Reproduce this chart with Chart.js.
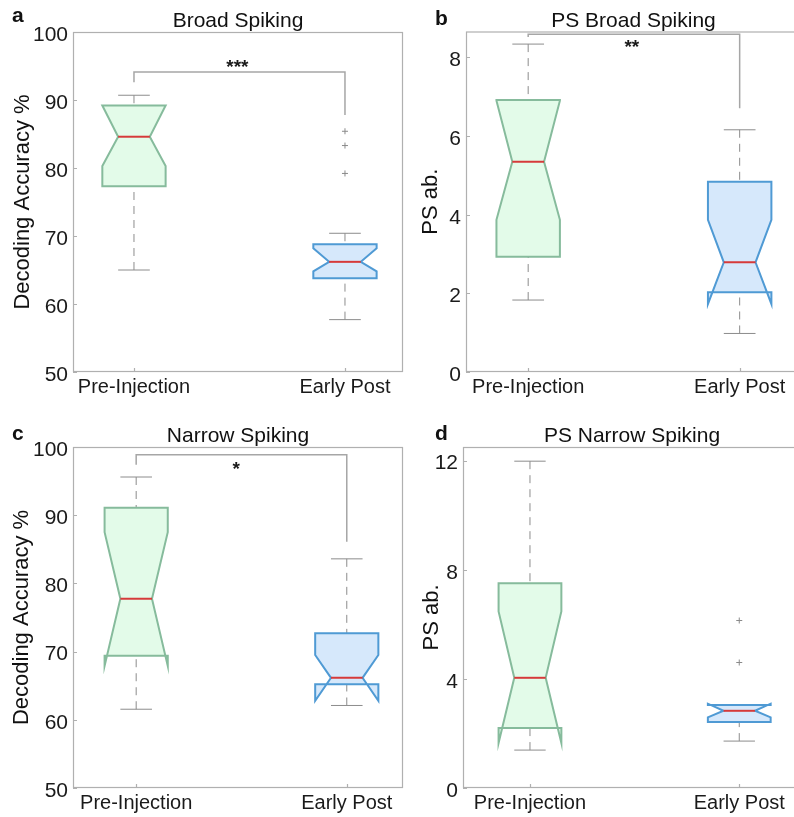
<!DOCTYPE html>
<html>
<head>
<meta charset="utf-8">
<script src="https://cdn.jsdelivr.net/npm/chart.js@4.4.0/dist/chart.umd.min.js"></script>
<style>
html, body { margin:0; padding:0; background:#fff; width:794px; height:817px; overflow:hidden; position:relative; }
canvas { position:absolute; }
</style>
</head>
<body>
<canvas id="chartA" width="410" height="405" style="left:0;top:0"></canvas>
<canvas id="chartB" width="410" height="405" style="left:400px;top:0"></canvas>
<canvas id="chartC" width="410" height="412" style="left:0;top:405px"></canvas>
<canvas id="chartD" width="410" height="412" style="left:400px;top:405px"></canvas>
<script>
const groups = ['Pre-Injection', 'Early Post'];

// a - Broad Spiking, decoding accuracy %
const broadWhiskLo = [65.0, 57.7];
const broadQ1 = [77.3, 63.8];
const broadNotchLo = [80.3, 64.8];
const broadMedian = [84.6, 66.2];
const broadNotchHi = [89.2, 68.2];
const broadQ3 = [89.2, 68.8];
const broadWhiskHi = [90.7, 70.4];
const broadOutliers = [[], [85.4, 83.3, 79.2]];
const broadSig = [94.1, 92.6, 87.8]; // bracket level, left end, right end
const broadStar = ['***', 1.49, 95.6];

// b - PS Broad Spiking
const psBroadWhiskLo = [1.83, 0.98];
const psBroadQ1 = [2.93, 2.03];
const psBroadNotchLo = [3.87, 1.73];
const psBroadMedian = [5.35, 2.79];
const psBroadNotchHi = [6.9, 3.87];
const psBroadQ3 = [6.92, 4.84];
const psBroadWhiskHi = [8.34, 6.16];
const psBroadOutliers = [[], []];
const psBroadSig = [8.59, 8.52, 6.71];
const psBroadStar = ['**', 1.49, 8.38];

// c - Narrow Spiking, decoding accuracy %
const narrowWhiskLo = [61.55, 62.1];
const narrowQ1 = [69.4, 65.2];
const narrowNotchLo = [67.9, 62.8];
const narrowMedian = [77.75, 66.15];
const narrowNotchHi = [87.5, 69.5];
const narrowQ3 = [91.1, 72.7];
const narrowWhiskHi = [95.6, 83.6];
const narrowOutliers = [[], []];
const narrowSig = [98.85, 97.4, 86.1];
const narrowStar = ['*', 1.475, 97.5];

// d - PS Narrow Spiking
const psNarrowWhiskLo = [1.39, 1.72];
const psNarrowQ1 = [2.2, 2.42];
const psNarrowNotchLo = [1.65, 2.59];
const psNarrowMedian = [4.04, 2.83];
const psNarrowNotchHi = [6.47, 3.09];
const psNarrowQ3 = [7.51, 3.04];
const psNarrowWhiskHi = [11.98, 3.06];
const psNarrowOutliers = [[], [6.14, 4.6]];

const BOX_HALF = 0.15;   // box half width in x units
const CAP_HALF = 0.075;  // whisker cap half width
const fillCols = ['#e3fbe9', '#d6e8fb'];
const lineCols = ['#86bb9c', '#4f9ad4'];
const FONT = '"Liberation Sans", Arial, sans-serif';

function makeBoxPlugin(p) {
  return {
    id: 'boxPlot',
    beforeDatasetsDraw(chart) {
      const { ctx, chartArea: ca } = chart;
      const xs = chart.scales.x, ys = chart.scales.y;
      const px = v => xs.getPixelForValue(v);
      const py = v => ys.getPixelForValue(v);
      ctx.save();
      // frame
      ctx.strokeStyle = '#b0b0b0';
      ctx.lineWidth = 1.2;
      ctx.strokeRect(ca.left + 0.5, ca.top + 0.5, ca.width - 1, ca.height - 1);
      // inner tick marks
      ctx.beginPath();
      ys.ticks.forEach(t => {
        const yy = Math.round(py(t.value)) + 0.5;
        ctx.moveTo(ca.left, yy); ctx.lineTo(ca.left + 4, yy);
      });
      xs.ticks.forEach(t => {
        const xx = Math.round(px(t.value)) + 0.5;
        ctx.moveTo(xx, ca.bottom); ctx.lineTo(xx, ca.bottom - 4);
      });
      ctx.stroke();

      // significance bracket
      if (p.sig) {
        ctx.strokeStyle = '#a6a6a6';
        ctx.lineWidth = 1.5;
        ctx.beginPath();
        ctx.moveTo(px(1), py(p.sig[1]));
        ctx.lineTo(px(1), py(p.sig[0]));
        ctx.lineTo(px(2), py(p.sig[0]));
        ctx.lineTo(px(2), py(p.sig[2]));
        ctx.stroke();
        ctx.fillStyle = '#1a1a1a';
        ctx.font = 'bold 19px ' + FONT;
        ctx.textAlign = 'center';
        ctx.textBaseline = 'alphabetic';
        ctx.fillText(p.star[0], px(p.star[1]), py(p.star[2]) + 0.57 * 19);
      }

      for (let i = 0; i < groups.length; i++) {
        const c = i + 1;
        const xc = px(c);
        const xl = px(c - BOX_HALF), xr = px(c + BOX_HALF);
        const nl = px(c - BOX_HALF / 2), nr = px(c + BOX_HALF / 2);
        const cl = px(c - CAP_HALF), cr = px(c + CAP_HALF);

        // dashed whiskers
        ctx.strokeStyle = '#8c8c8c';
        ctx.lineWidth = 1;
        ctx.setLineDash([8, 6]);
        ctx.beginPath();
        ctx.moveTo(xc, py(p.whiskHi[i])); ctx.lineTo(xc, py(p.q3[i]));
        ctx.moveTo(xc, py(p.whiskLo[i])); ctx.lineTo(xc, py(p.q1[i]));
        ctx.stroke();
        ctx.setLineDash([]);
        // caps
        ctx.beginPath();
        ctx.moveTo(cl, py(p.whiskHi[i])); ctx.lineTo(cr, py(p.whiskHi[i]));
        ctx.moveTo(cl, py(p.whiskLo[i])); ctx.lineTo(cr, py(p.whiskLo[i]));
        ctx.stroke();

        // notched box
        ctx.beginPath();
        ctx.moveTo(xl, py(p.q3[i]));
        ctx.lineTo(xl, py(p.notchHi[i]));
        ctx.lineTo(nl, py(p.median[i]));
        ctx.lineTo(xl, py(p.notchLo[i]));
        ctx.lineTo(xl, py(p.q1[i]));
        ctx.lineTo(xr, py(p.q1[i]));
        ctx.lineTo(xr, py(p.notchLo[i]));
        ctx.lineTo(nr, py(p.median[i]));
        ctx.lineTo(xr, py(p.notchHi[i]));
        ctx.lineTo(xr, py(p.q3[i]));
        ctx.closePath();
        ctx.fillStyle = fillCols[i];
        ctx.fill();
        ctx.strokeStyle = lineCols[i];
        ctx.lineWidth = 2;
        ctx.lineJoin = 'miter';
        ctx.stroke();

        // median
        ctx.strokeStyle = '#d63a3a';
        ctx.lineWidth = 2;
        ctx.beginPath();
        ctx.moveTo(nl, py(p.median[i])); ctx.lineTo(nr, py(p.median[i]));
        ctx.stroke();
      }
      ctx.restore();
    },
    afterDraw(chart) {
      const { ctx, chartArea: ca } = chart;
      ctx.save();
      ctx.fillStyle = '#111';
      ctx.textAlign = 'center';
      ctx.textBaseline = 'alphabetic';
      ctx.font = '21px ' + FONT;
      ctx.fillText(p.title, (ca.left + ca.right) / 2, ca.top - 5);
      ctx.textAlign = 'left';
      ctx.font = 'bold 21px ' + FONT;
      ctx.fillText(p.letter, p.letterPos[0], p.letterPos[1]);
      ctx.restore();
    }
  };
}

function panelConfig(p) {
  const pts = [];
  p.outliers.forEach((arr, i) => arr.forEach(v => pts.push({ x: i + 1, y: v })));
  return {
    type: 'scatter',
    data: {
      datasets: [{
        data: pts,
        pointStyle: 'cross',
        radius: 3,
        borderColor: '#8a8a8a',
        borderWidth: 1
      }]
    },
    options: {
      responsive: false,
      animation: false,
      events: [],
      layout: { padding: { left: 0, top: p.padTop, right: p.padRight, bottom: 0 } },
      plugins: { legend: { display: false }, tooltip: { enabled: false }, title: { display: false } },
      scales: {
        x: {
          type: 'linear',
          min: p.xMin, max: p.xMax,
          afterBuildTicks: s => { s.ticks = [{ value: 1 }, { value: 2 }]; },
          afterFit: s => { s.height = p.xHeight; },
          ticks: {
            callback: v => groups[v - 1],
            font: { family: FONT, size: 20 },
            color: '#1a1a1a',
            padding: 3,
            maxRotation: 0,
            autoSkip: false
          },
          grid: { display: false, drawTicks: false },
          border: { display: false }
        },
        y: {
          type: 'linear',
          min: p.yMin, max: p.yMax,
          afterFit: s => { s.width = p.yWidth; },
          ticks: {
            stepSize: p.yStep,
            includeBounds: false,
            font: { family: FONT, size: 21 },
            color: '#1a1a1a',
            padding: 5,
            labelOffset: 3
          },
          title: {
            display: true,
            text: p.yTitle,
            font: { family: FONT, size: 22 },
            color: '#111',
            padding: { top: p.yTitlePad, bottom: 0 }
          },
          grid: { display: false, drawTicks: false },
          border: { display: false }
        }
      }
    },
    plugins: [makeBoxPlugin(p)]
  };
}

const panels = [
  {
    id: 'chartA', title: 'Broad Spiking', letter: 'a', letterPos: [12, 22],
    yTitle: 'Decoding Accuracy %', yMin: 50, yMax: 100, yStep: 10,
    xMin: 0.711, xMax: 2.275, padTop: 32, padRight: 7, yWidth: 73, xHeight: 33, yTitlePad: 10,
    whiskLo: broadWhiskLo, q1: broadQ1, notchLo: broadNotchLo, median: broadMedian,
    notchHi: broadNotchHi, q3: broadQ3, whiskHi: broadWhiskHi, outliers: broadOutliers,
    sig: broadSig, star: broadStar
  },
  {
    id: 'chartB', title: 'PS Broad Spiking', letter: 'b', letterPos: [35, 25],
    yTitle: 'PS ab.', yMin: 0, yMax: 8.66, yStep: 2,
    xMin: 0.706, xMax: 2.29, padTop: 31.5, padRight: 9, yWidth: 66, xHeight: 33, yTitlePad: 18,
    whiskLo: psBroadWhiskLo, q1: psBroadQ1, notchLo: psBroadNotchLo, median: psBroadMedian,
    notchHi: psBroadNotchHi, q3: psBroadQ3, whiskHi: psBroadWhiskHi, outliers: psBroadOutliers,
    sig: psBroadSig, star: psBroadStar
  },
  {
    id: 'chartC', title: 'Narrow Spiking', letter: 'c', letterPos: [12, 35],
    yTitle: 'Decoding Accuracy %', yMin: 50, yMax: 100, yStep: 10,
    xMin: 0.70, xMax: 2.267, padTop: 42, padRight: 7, yWidth: 73, xHeight: 29, yTitlePad: 9,
    whiskLo: narrowWhiskLo, q1: narrowQ1, notchLo: narrowNotchLo, median: narrowMedian,
    notchHi: narrowNotchHi, q3: narrowQ3, whiskHi: narrowWhiskHi, outliers: narrowOutliers,
    sig: narrowSig, star: narrowStar
  },
  {
    id: 'chartD', title: 'PS Narrow Spiking', letter: 'd', letterPos: [35, 35],
    yTitle: 'PS ab.', yMin: 0, yMax: 12.5, yStep: 4,
    xMin: 0.68, xMax: 2.295, padTop: 42, padRight: 9, yWidth: 63, xHeight: 29, yTitlePad: 19,
    whiskLo: psNarrowWhiskLo, q1: psNarrowQ1, notchLo: psNarrowNotchLo, median: psNarrowMedian,
    notchHi: psNarrowNotchHi, q3: psNarrowQ3, whiskHi: psNarrowWhiskHi, outliers: psNarrowOutliers,
    sig: null, star: null
  }
];

panels.forEach(p => {
  new Chart(document.getElementById(p.id).getContext('2d'), panelConfig(p));
});
</script>
</body>
</html>
